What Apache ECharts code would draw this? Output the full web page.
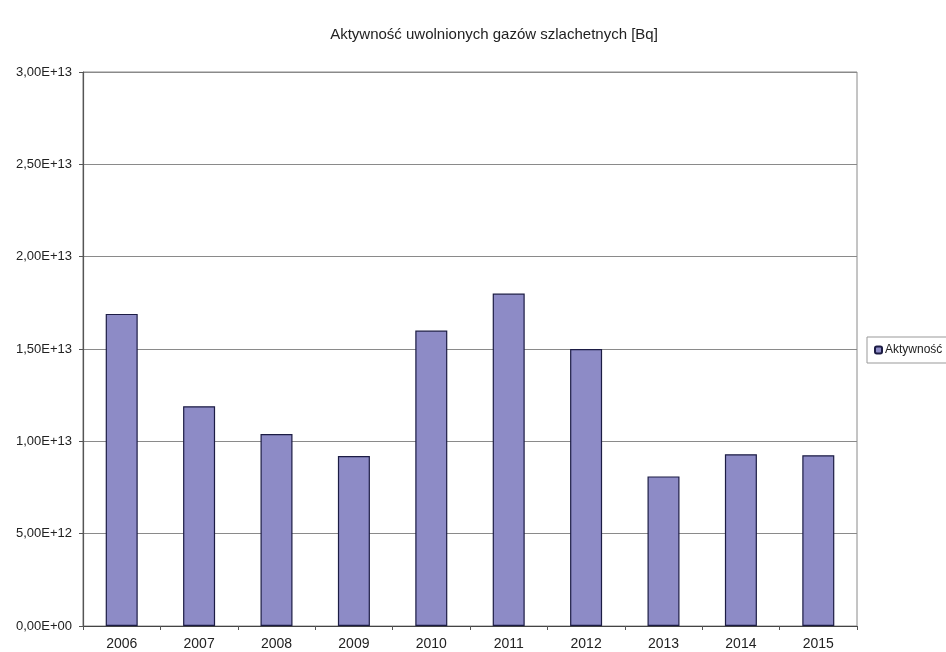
<!DOCTYPE html>
<html>
<head>
<meta charset="utf-8">
<script src="https://cdn.jsdelivr.net/npm/echarts@6/dist/echarts.min.js"></script>
<style>
  html, body { margin: 0; padding: 0; background: #ffffff; }
  #chart { width: 946px; height: 652px; }
</style>
</head>
<body>
<div id="chart"></div>
<script>
// Annual activity of released noble gases
const years = ['2006', '2007', '2008', '2009', '2010', '2011', '2012', '2013', '2014', '2015'];
const activity = [1.69e13, 1.19e13, 1.04e13, 9.2e12, 1.6e13, 1.8e13, 1.5e13, 8.1e12, 9.3e12, 9.25e12];
const seriesName = 'Aktywność';
const chartTitle = 'Aktywność uwolnionych gazów szlachetnych [Bq]';

// Excel-style scientific label: 1,50E+13
function sciLabel(v) {
  const s = Number(v).toExponential(2);
  const parts = s.split('e');
  const mant = parts[0].replace('.', ',');
  const exp = parseInt(parts[1], 10);
  const sign = exp < 0 ? '-' : '+';
  const e = String(Math.abs(exp)).padStart(2, '0');
  return mant + 'E' + sign + e;
}

const chart = echarts.init(document.getElementById('chart'));
const font = 'Liberation Sans, Arial, sans-serif';

chart.setOption({
  animation: false,
  backgroundColor: '#ffffff',
  title: {
    text: chartTitle,
    left: 489,
    textAlign: 'center',
    top: 22,
    textStyle: { fontFamily: font, fontSize: 15, fontWeight: 'normal', color: '#222' }
  },
  legend: {
    data: [seriesName],
    left: 867,
    top: 337,
    orient: 'vertical',
    itemWidth: 7,
    itemHeight: 7,
    itemGap: 4,
    padding: [7, 10, 7, 7],
    borderColor: '#999',
    borderWidth: 1,
    textStyle: { fontFamily: font, fontSize: 12, color: '#222', padding: [0, 0, 0, -2] }
  },
  grid: {
    left: 83,
    right: 89,
    top: 72,
    bottom: 26,
    show: true,
    borderColor: '#8a8a8a',
    borderWidth: 1,
    containLabel: false
  },
  xAxis: {
    type: 'category',
    data: years,
    axisLine: { show: true, lineStyle: { color: '#444', width: 1.2 } },
    axisTick: { show: true, length: 4, alignWithLabel: false, lineStyle: { color: '#555' } },
    axisLabel: { fontFamily: font, fontSize: 14, color: '#222', margin: 11 }
  },
  yAxis: {
    type: 'value',
    min: 0,
    max: 3e13,
    interval: 5e12,
    axisLine: { show: true, lineStyle: { color: '#555', width: 1.2 } },
    axisTick: { show: true, length: 4, lineStyle: { color: '#555' } },
    axisLabel: { fontFamily: font, fontSize: 13, color: '#222', margin: 11, formatter: sciLabel },
    splitLine: { show: true, lineStyle: { color: '#8a8a8a', width: 1 } }
  },
  series: [{
    name: seriesName,
    type: 'bar',
    data: activity,
    barWidth: 32,
    itemStyle: { color: '#8d8bc6', borderColor: '#1c1c44', borderWidth: 1.2 }
  }]
});
</script>
</body>
</html>
